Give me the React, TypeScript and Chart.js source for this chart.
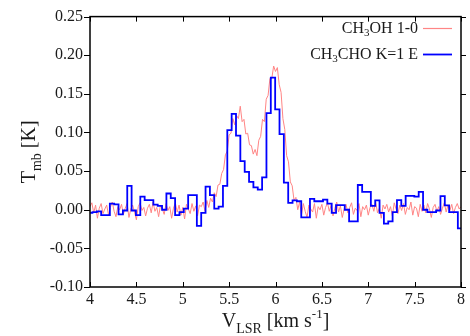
import React, { useEffect, useRef } from "react";
import { Chart, registerables } from "chart.js";

Chart.register(...registerables);

const FAMILY = "'Liberation Serif', 'DejaVu Serif', serif";
const TEXT_COLOR = "#1a1a1a";

const X_MIN = 4;
const X_MAX = 8;
const Y_MIN = -0.1;
const Y_MAX = 0.25;
const X_TICKS = [4, 4.5, 5, 5.5, 6, 6.5, 7, 7.5, 8];
const Y_TICKS = [-0.1, -0.05, 0, 0.05, 0.1, 0.15, 0.2, 0.25];

// CH3CHO K=1 E: channel grid (km/s) and brightness (K)
const CHO_V0 = 4.003;
const CHO_DV = 0.0469;
const CH3CHO_T = [
  -0.004, -0.003, -0.002, -0.007, -0.007, 0.008, 0.007, -0.006, -0.001, 0.031,
  -0.001, -0.007, 0.017, 0.0125, 0.0125, 0.0066, 0.005, 0.0, 0.021, 0.015,
  -0.007, -0.003, 0.0015, 0.019, 0.019, -0.021, -0.004, 0.03, 0.019, 0.0015,
  0.004, 0.031, 0.103, 0.124, 0.096, 0.063, 0.049, 0.036, 0.029, 0.026,
  0.042, 0.125, 0.171, 0.13, 0.098, 0.035, 0.009, 0.012, 0.011, -0.01,
  -0.01, 0.014, 0.011, 0.011, 0.013, 0.008, -0.004, 0.006, 0.006, 0.0,
  -0.015, -0.015, 0.032, 0.023, 0.023, 0.005, 0.012, -0.004, -0.018, -0.015,
  -0.003, 0.0125, 0.005, 0.018, 0.018, 0.017, 0.023, 0.0, -0.003, -0.003,
  -0.001, 0.0176, 0.0057, -0.003, -0.003, -0.024, -0.024,
];

// CH3OH 1-0: finer grid (km/s) and brightness (K)
const OH_V0 = 4.0;
const OH_DV = 0.02;
const CH3OH_T = [
  0.004, 0.009, -0.004, 0.006, -0.011, 0.002, 0.008, -0.005, 0.001, 0.006,
  -0.007, 0.003, 0.010, -0.002, -0.009, 0.004, 0.0, 0.007, -0.006, 0.002,
  0.008, -0.010, 0.001, 0.006, -0.003, -0.013, 0.004, 0.009, -0.001, 0.003,
  -0.008, 0.002, 0.007, -0.004, 0.010, -0.002, 0.003, -0.009, 0.006, 0.001,
  -0.006, 0.008, -0.001, 0.004, -0.011, 0.002, 0.009, -0.003, 0.006, -0.007,
  0.003, -0.012, 0.007, 0.001, -0.005, 0.008, -0.002, 0.005, -0.008, 0.006,
  0.004, 0.010, -0.002, 0.012, 0.003, 0.015, 0.010, 0.022, 0.017, 0.032,
  0.033, 0.047, 0.052, 0.071, 0.076, 0.097, 0.099, 0.118, 0.110, 0.122,
  0.118, 0.134, 0.114, 0.117, 0.098, 0.099, 0.084, 0.083, 0.072, 0.078,
  0.070, 0.090, 0.095, 0.117, 0.114, 0.143, 0.148, 0.170, 0.170, 0.186,
  0.179, 0.184, 0.162, 0.152, 0.118, 0.104, 0.070, 0.062, 0.036, 0.031,
  0.012, 0.016, 0.0, 0.010, -0.007, 0.008, -0.002, -0.010, 0.006, 0.001,
  -0.003, 0.008, -0.011, 0.004, 0.0, 0.007, -0.007, 0.003, 0.009, -0.002,
  0.006, -0.008, 0.002, 0.010, -0.003, 0.005, -0.010, 0.001, 0.007, -0.004,
  0.003, 0.009, -0.006, 0.002, -0.001, 0.008, -0.009, 0.004, 0.0, 0.006,
  -0.007, 0.003, 0.007, -0.002, 0.010, -0.004, 0.002, -0.011, 0.006, 0.001,
  0.007, -0.003, 0.004, -0.008, 0.009, 0.001, -0.005, 0.006, -0.001, 0.008,
  -0.006, 0.003, 0.0, 0.010, -0.007, 0.004, 0.002, -0.009, 0.007, -0.002,
  0.006, -0.004, 0.008, 0.001, -0.010, 0.003, 0.007, -0.002, 0.004, -0.006,
  0.002, 0.009, -0.003, 0.006, -0.001, 0.007, -0.005, 0.003, 0.008, 0.001, 0.004,
];

const LEGEND_OH = "OH 1-0";
const LEGEND_CHO = "CHO K=1 E";
const OH_COLOR = "#ff8585";
const CHO_COLOR = "#0000ff";

type Part = { t: string; size: number; dy?: number };

function drawRich(
  ctx: CanvasRenderingContext2D,
  parts: Part[],
  x: number,
  y: number,
  align: "left" | "center" | "right"
) {
  let w = 0;
  for (const p of parts) {
    ctx.font = `${p.size}px ${FAMILY}`;
    w += ctx.measureText(p.t).width;
  }
  let cx = align === "left" ? x : align === "center" ? x - w / 2 : x - w;
  ctx.textAlign = "left";
  ctx.textBaseline = "alphabetic";
  for (const p of parts) {
    ctx.font = `${p.size}px ${FAMILY}`;
    ctx.fillText(p.t, cx, y + (p.dy || 0));
    cx += ctx.measureText(p.t).width;
  }
}

const decorPlugin = {
  id: "decor",
  afterDraw(chart: any) {
    const { ctx, chartArea: a, scales } = chart;
    const xs = scales.x;
    const ys = scales.y;
    ctx.save();
    ctx.strokeStyle = "#000";
    ctx.lineWidth = 1.5;
    ctx.strokeRect(a.left, a.top, a.right - a.left, a.bottom - a.top);
    ctx.lineWidth = 1;
    ctx.beginPath();
    for (const v of X_TICKS) {
      const px = Math.round(xs.getPixelForValue(v)) + 0.5;
      ctx.moveTo(px, a.bottom);
      ctx.lineTo(px, a.bottom - 5);
      ctx.moveTo(px, a.top);
      ctx.lineTo(px, a.top + 5);
    }
    for (const v of Y_TICKS) {
      const py = Math.round(ys.getPixelForValue(v)) + 0.5;
      ctx.moveTo(a.left - 6, py);
      ctx.lineTo(a.left, py);
      ctx.moveTo(a.right, py);
      ctx.lineTo(a.right + 5, py);
    }
    ctx.stroke();

    ctx.fillStyle = TEXT_COLOR;
    // x title
    drawRich(
      ctx,
      [
        { t: "V", size: 20 },
        { t: "LSR", size: 14, dy: 6 },
        { t: " [km s", size: 20 },
        { t: "-1", size: 13, dy: -9 },
        { t: "]", size: 20 },
      ],
      (a.left + a.right) / 2,
      327,
      "center"
    );
    // y title
    ctx.save();
    ctx.translate(35, (a.top + a.bottom) / 2);
    ctx.rotate(-Math.PI / 2);
    drawRich(
      ctx,
      [
        { t: "T", size: 20 },
        { t: "mb", size: 14, dy: 6 },
        { t: " [K]", size: 20 },
      ],
      0,
      0,
      "center"
    );
    ctx.restore();

    // legend
    const textRight = 418;
    drawRich(
      ctx,
      [
        { t: "CH", size: 16 },
        { t: "3", size: 11, dy: 3 },
        { t: LEGEND_OH, size: 16 },
      ],
      textRight,
      33,
      "right"
    );
    drawRich(
      ctx,
      [
        { t: "CH", size: 16 },
        { t: "3", size: 11, dy: 3 },
        { t: LEGEND_CHO, size: 16 },
      ],
      textRight,
      59,
      "right"
    );
    ctx.lineWidth = 1.2;
    ctx.strokeStyle = OH_COLOR;
    ctx.beginPath();
    ctx.moveTo(423, 28.5);
    ctx.lineTo(452, 28.5);
    ctx.stroke();
    ctx.lineWidth = 1.8;
    ctx.strokeStyle = CHO_COLOR;
    ctx.beginPath();
    ctx.moveTo(423, 54.5);
    ctx.lineTo(452, 54.5);
    ctx.stroke();
    ctx.restore();
  },
};

export default function App() {
  const canvasRef = useRef<HTMLCanvasElement | null>(null);

  useEffect(() => {
    const canvas = canvasRef.current;
    if (!canvas) return;
    const choData = CH3CHO_T.map((t, i) => ({ x: CHO_V0 + i * CHO_DV, y: t }));
    const ohData = CH3OH_T.map((t, i) => ({ x: OH_V0 + i * OH_DV, y: t }));

    const chart = new Chart(canvas, {
      type: "line",
      data: {
        datasets: [
          {
            label: "CH3CHO K=1 E",
            data: choData,
            borderColor: CHO_COLOR,
            borderWidth: 1.8,
            stepped: "middle",
            pointRadius: 0,
            fill: false,
          },
          {
            label: "CH3OH 1-0",
            data: ohData,
            borderColor: OH_COLOR,
            borderWidth: 1,
            pointRadius: 0,
            tension: 0,
            fill: false,
          },
        ],
      },
      options: {
        animation: false,
        responsive: false,
        devicePixelRatio: 1,
        layout: { padding: { top: 12, right: 9, left: 0, bottom: 0 } },
        plugins: {
          legend: { display: false },
          tooltip: { enabled: false },
          title: { display: false },
        },
        scales: {
          x: {
            type: "linear",
            min: X_MIN,
            max: X_MAX,
            grid: { display: false, drawTicks: false },
            border: { display: false },
            ticks: {
              padding: 3,
              autoSkip: false,
              maxRotation: 0,
              color: TEXT_COLOR,
              font: { family: FAMILY, size: 16 },
              callback: (v: any) => String(v),
            },
            afterBuildTicks: (s: any) => {
              s.ticks = X_TICKS.map((value) => ({ value }));
            },
            afterFit: (s: any) => {
              s.height = 49;
            },
          },
          y: {
            type: "linear",
            min: Y_MIN,
            max: Y_MAX,
            grid: { display: false, drawTicks: false },
            border: { display: false },
            ticks: {
              padding: 7,
              autoSkip: false,
              color: TEXT_COLOR,
              font: { family: FAMILY, size: 16 },
              callback: (v: any) => Number(v).toFixed(2),
            },
            afterBuildTicks: (s: any) => {
              s.ticks = Y_TICKS.map((value) => ({ value }));
            },
            afterFit: (s: any) => {
              s.width = 90;
            },
          },
        },
      },
      plugins: [decorPlugin],
    });
    return () => chart.destroy();
  }, []);

  return (
    <div style={{ position: "fixed", left: 0, top: 0, width: 470, height: 336, background: "#fff" }}>
      <canvas ref={canvasRef} width={470} height={336} />
    </div>
  );
}
